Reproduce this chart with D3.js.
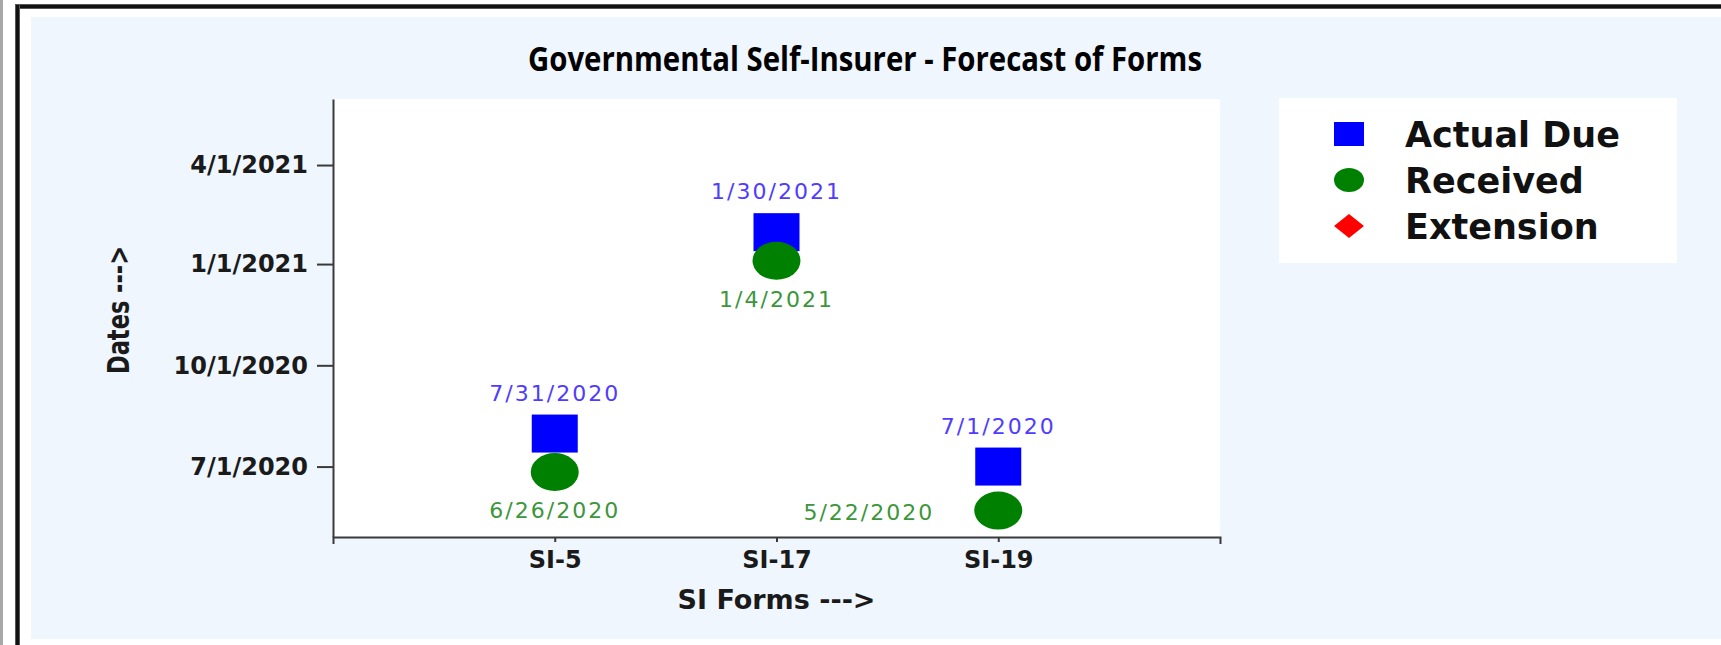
<!DOCTYPE html>
<html>
<head>
<meta charset="utf-8">
<script src="https://cdn.jsdelivr.net/npm/d3@7/dist/d3.min.js"></script>
<style>
    body { margin: 0; background: #fff; }
</style>
</head>
<body>
<div id="chart"></div>
<script>
var forms = ['SI-5', 'SI-17', 'SI-19'];
var actualDue = ['7/31/2020', '1/30/2021', '7/1/2020'];
var received = ['6/26/2020', '1/4/2021', '5/22/2020'];
var extension = [];
var dateTicks = ['7/1/2020', '10/1/2020', '1/1/2021', '4/1/2021'];
var dateRange = ['4/28/2020', '5/31/2021'];
var legendLabels = ['Actual Due', 'Received', 'Extension'];

var parseDate = d3.utcParse('%m/%d/%Y');
var formatDate = d3.utcFormat('%-m/%-d/%Y');

var width = 1721, height = 645;
var plot = { left: 333, top: 99, right: 1220, bottom: 537 };
var boldFont = '"DejaVu Sans", Verdana, sans-serif';

var svg = d3.select('#chart').append('svg')
    .attr('width', width)
    .attr('height', height);

// outer frame, like the page the chart was cut from
svg.append('rect').attr('x', 0).attr('y', 0).attr('width', 3).attr('height', height).attr('fill', '#a8a8a8');
svg.append('rect').attr('x', 15).attr('y', 4).attr('width', width - 15).attr('height', 5).attr('fill', '#555');
svg.append('rect').attr('x', 15).attr('y', 5).attr('width', width - 15).attr('height', 3).attr('fill', '#111');
svg.append('rect').attr('x', 15).attr('y', 4).attr('width', 5).attr('height', height - 4).attr('fill', '#555');
svg.append('rect').attr('x', 16).attr('y', 5).attr('width', 3).attr('height', height - 5).attr('fill', '#111');

// chart panel
svg.append('rect')
    .attr('x', 31).attr('y', 17)
    .attr('width', width - 31).attr('height', 622)
    .attr('fill', '#eff6fe');

svg.append('rect')
    .attr('x', plot.left).attr('y', plot.top)
    .attr('width', plot.right - plot.left).attr('height', plot.bottom - plot.top)
    .attr('fill', '#fff');

svg.append('text')
    .text('Governmental Self-Insurer - Forecast of Forms')
    .attr('x', 865)
    .attr('y', 71)
    .attr('text-anchor', 'middle')
    .attr('font-family', '"Liberation Sans Narrow", "Open Sans", sans-serif')
    .attr('font-weight', 'bold')
    .attr('font-size', 34)
    .attr('textLength', 674)
    .attr('lengthAdjust', 'spacingAndGlyphs')
    .attr('fill', '#000');

var x = d3.scalePoint()
    .domain(forms)
    .range([plot.left, plot.right])
    .padding(1);

var y = d3.scaleUtc()
    .domain(dateRange.map(parseDate))
    .range([plot.bottom, plot.top]);

// axes
var yAxis = svg.append('g')
    .attr('transform', 'translate(' + plot.left + ',0)')
    .call(d3.axisLeft(y)
        .tickValues(dateTicks.map(parseDate))
        .tickFormat(formatDate)
        .tickSize(16)
        .tickSizeOuter(0)
        .tickPadding(9));

var xAxis = svg.append('g')
    .attr('transform', 'translate(0,' + plot.bottom + ')')
    .call(d3.axisBottom(x)
        .tickSize(5)
        .tickSizeOuter(7)
        .tickPadding(9));

[xAxis, yAxis].forEach(function(g) {
    g.attr('color', '#3a3a3a')
        .attr('font-family', boldFont)
        .attr('font-weight', 'bold')
        .attr('font-size', 24);
    g.select('.domain').attr('stroke-width', 2);
    g.selectAll('.tick line').attr('stroke-width', 2);
    g.selectAll('.tick text').attr('fill', '#1a1a1a');
});

svg.append('text')
    .text('SI Forms --->')
    .attr('x', (plot.left + plot.right) / 2)
    .attr('y', 609)
    .attr('text-anchor', 'middle')
    .attr('font-family', boldFont)
    .attr('font-weight', 'bold')
    .attr('font-size', 27)
    .attr('fill', '#1a1a1a');

svg.append('text')
    .text('Dates --->')
    .attr('transform', 'translate(129,310) rotate(-90)')
    .attr('text-anchor', 'middle')
    .attr('font-family', boldFont)
    .attr('font-weight', 'bold')
    .attr('font-size', 30)
    .attr('textLength', 128)
    .attr('lengthAdjust', 'spacingAndGlyphs')
    .attr('fill', '#1a1a1a');

// marks
var dueData = forms.map(function(f, i) { return { form: f, label: actualDue[i], date: parseDate(actualDue[i]) }; });
var recData = forms.map(function(f, i) { return { form: f, label: received[i], date: parseDate(received[i]) }; });

svg.append('g').selectAll('rect')
    .data(dueData)
    .enter()
    .append('rect')
    .attr('x', function(d) { return x(d.form) - 23; })
    .attr('y', function(d) { return y(d.date) - 19; })
    .attr('width', 46)
    .attr('height', 38)
    .attr('fill', '#0000ff');

svg.append('g').selectAll('ellipse')
    .data(recData)
    .enter()
    .append('ellipse')
    .attr('cx', function(d) { return x(d.form); })
    .attr('cy', function(d) { return y(d.date); })
    .attr('rx', 24)
    .attr('ry', 19)
    .attr('fill', '#008000');

svg.append('g').selectAll('text')
    .data(dueData)
    .enter()
    .append('text')
    .text(function(d) { return d.label; })
    .attr('x', function(d) { return x(d.form); })
    .attr('y', function(d) { return y(d.date) - 33; })
    .attr('text-anchor', 'middle')
    .attr('font-family', boldFont)
    .attr('font-size', 22)
    .attr('letter-spacing', 2)
    .attr('fill', '#4f3cff');

// received labels go below the mark, or to its left when too close to the axis
svg.append('g').selectAll('text')
    .data(recData)
    .enter()
    .append('text')
    .text(function(d) { return d.label; })
    .each(function(d) {
        var cx = x(d.form), cy = y(d.date);
        var below = cy + 46 < plot.bottom - 8;
        d3.select(this)
            .attr('x', below ? cx : cx - 64)
            .attr('y', below ? cy + 46 : cy + 9)
            .attr('text-anchor', below ? 'middle' : 'end');
    })
    .attr('font-family', boldFont)
    .attr('font-size', 22)
    .attr('letter-spacing', 2)
    .attr('fill', '#3c963c');

// legend
svg.append('rect')
    .attr('x', 1279).attr('y', 98)
    .attr('width', 398).attr('height', 165)
    .attr('fill', '#fff');

var legend = svg.append('g').selectAll('g')
    .data(legendLabels)
    .enter()
    .append('g')
    .attr('transform', function(d, i) { return 'translate(1349,' + (134 + i * 46) + ')'; });

legend.each(function(d, i) {
    var g = d3.select(this);
    if (i === 0) {
        g.append('rect').attr('x', -15).attr('y', -12).attr('width', 30).attr('height', 24).attr('fill', '#0000ff');
    } else if (i === 1) {
        g.append('ellipse').attr('rx', 15).attr('ry', 12).attr('fill', '#008000');
    } else {
        g.append('path').attr('d', 'M -15,0 L 0,-12 15,0 0,12 z').attr('fill', '#ff0000');
    }
});

legend.append('text')
    .text(function(d) { return d; })
    .attr('x', 56)
    .attr('y', 13)
    .attr('font-family', boldFont)
    .attr('font-weight', 'bold')
    .attr('font-size', 35)
    .attr('fill', '#111');
</script>
</body>
</html>
